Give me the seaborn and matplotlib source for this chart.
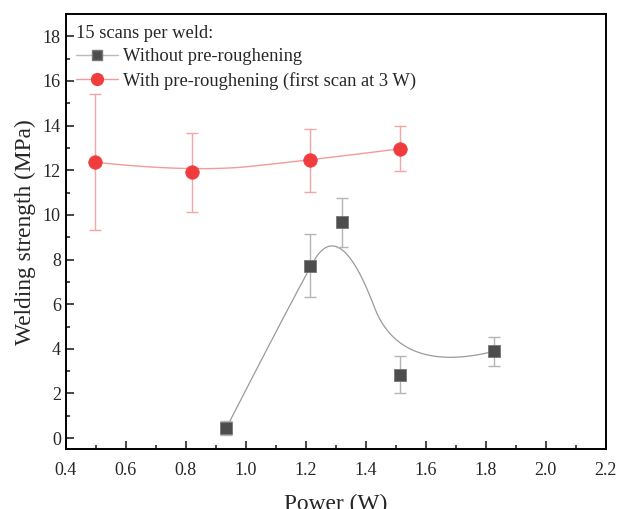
import numpy as np
import pandas as pd
import matplotlib
matplotlib.use('Agg')
import matplotlib.pyplot as plt
from matplotlib.lines import Line2D
from matplotlib.ticker import MultipleLocator
import seaborn as sns

# data
power_without = [0.935, 1.213, 1.322, 1.513, 1.828]
strength_without = [0.45, 7.73, 9.67, 2.84, 3.89]
err_without = [0.33, 1.43, 1.10, 0.83, 0.65]

power_with = [0.497, 0.82, 1.213, 1.513]
strength_with = [12.36, 11.90, 12.45, 12.96]
err_with = [3.04, 1.75, 1.42, 1.01]

label_without = 'Without pre-roughening'
label_with = 'With pre-roughening (first scan at 3 W)'
legend_title = '15 scans per weld:'


def bspline2(xs, ys, inner, n=400):
    # clamped quadratic B-spline, data points used as control points
    P = np.column_stack([xs, ys])
    knots = np.concatenate([[0, 0, 0], inner, [1, 1, 1]])
    u = np.linspace(0, 1, n)
    out = []
    for t in u:
        N = np.zeros(len(knots) - 1)
        for i in range(len(knots) - 1):
            if knots[i] <= t < knots[i + 1] or (t == 1 and knots[i] < knots[i + 1] == 1):
                N[i] = 1.0
        for d in range(1, 3):
            Nn = np.zeros(len(knots) - 1 - d)
            for i in range(len(Nn)):
                a = 0.0
                if knots[i + d] != knots[i]:
                    a = (t - knots[i]) / (knots[i + d] - knots[i]) * N[i]
                b = 0.0
                if knots[i + d + 1] != knots[i + 1]:
                    b = (knots[i + d + 1] - t) / (knots[i + d + 1] - knots[i + 1]) * N[i + 1]
                Nn[i] = a + b
            N = Nn
        out.append(N @ P)
    out = np.array(out)
    return out[:, 0], out[:, 1]


sns.set_style('ticks')
plt.rcParams['font.family'] = ['Liberation Serif', 'DejaVu Serif']

red = '#F03C3C'
red_line = '#F49A9A'
red_err = '#F4A6A6'
dark = '#4D4D4D'
gray_line = '#9A9A9A'
gray_err = '#B4B4B4'

fig = plt.figure(figsize=(6.17, 5.09), dpi=100)
ax = fig.add_axes([0.1065, 0.1173, 0.8755, 0.8552])

cx, cy = bspline2(power_with, strength_with, [0.5])
df_cw = pd.DataFrame({'x': cx, 'y': cy})
sns.lineplot(data=df_cw, x='x', y='y', ax=ax, color=red_line, lw=1.0, sort=False, estimator=None)
cx, cy = bspline2(power_without, strength_without, [0.15, 0.62])
df_cn = pd.DataFrame({'x': cx, 'y': cy})
sns.lineplot(data=df_cn, x='x', y='y', ax=ax, color=gray_line, lw=0.9, sort=False, estimator=None)

ax.errorbar(power_with, strength_with, yerr=err_with, fmt='none', ecolor=red_err,
            elinewidth=1.0, capsize=4, capthick=1.0, zorder=2)
ax.errorbar(power_without, strength_without, yerr=err_without, fmt='none', ecolor=gray_err,
            elinewidth=1.0, capsize=4, capthick=1.0, zorder=2)

df_w = pd.DataFrame({'x': power_with, 'y': strength_with})
df_n = pd.DataFrame({'x': power_without, 'y': strength_without})
sns.scatterplot(data=df_w, x='x', y='y', ax=ax, marker='o', s=95, color=red,
                edgecolor=red, linewidth=0.5, zorder=3)
sns.scatterplot(data=df_n, x='x', y='y', ax=ax, marker='s', s=70, color=dark,
                edgecolor='#777777', linewidth=0.6, zorder=3)

ax.set_xlim(0.4, 2.2)
ax.set_ylim(-0.5, 19)
ax.xaxis.set_major_locator(MultipleLocator(0.2))
ax.xaxis.set_minor_locator(MultipleLocator(0.1))
ax.yaxis.set_major_locator(MultipleLocator(2))
ax.yaxis.set_minor_locator(MultipleLocator(1))
ax.xaxis.set_major_formatter(matplotlib.ticker.FormatStrFormatter('%.1f'))
ax.tick_params(which='both', direction='in', top=False, right=False, labelsize=13, width=1.2)
ax.tick_params(which='major', length=6)
ax.tick_params(which='minor', length=3.2)
ax.tick_params(axis='x', pad=9)
for s in ax.spines.values():
    s.set_linewidth(1.4)
    s.set_color('black')

ax.set_xlabel('Power (W)', fontsize=16.8, labelpad=11)
ax.set_ylabel('Welding strength (MPa)', fontsize=16.8, labelpad=5)

handles = [
    Line2D([], [], color='#BBBBBB', lw=1.0, marker='s', markersize=7,
           markerfacecolor=dark, markeredgecolor='#777777'),
    Line2D([], [], color=red_line, lw=1.0, marker='o', markersize=8.5,
           markerfacecolor=red, markeredgecolor=red),
]
leg = ax.legend(handles, [label_without, label_with], title=legend_title, loc='upper left',
                frameon=False, fontsize=13.3, title_fontsize=13.3, handlelength=2.27,
                handletextpad=0.3, labelspacing=0.35, borderaxespad=0.3,
                bbox_to_anchor=(-0.005, 1.005))
leg._legend_box.align = 'left'

fig.savefig('out.png', dpi=100)
